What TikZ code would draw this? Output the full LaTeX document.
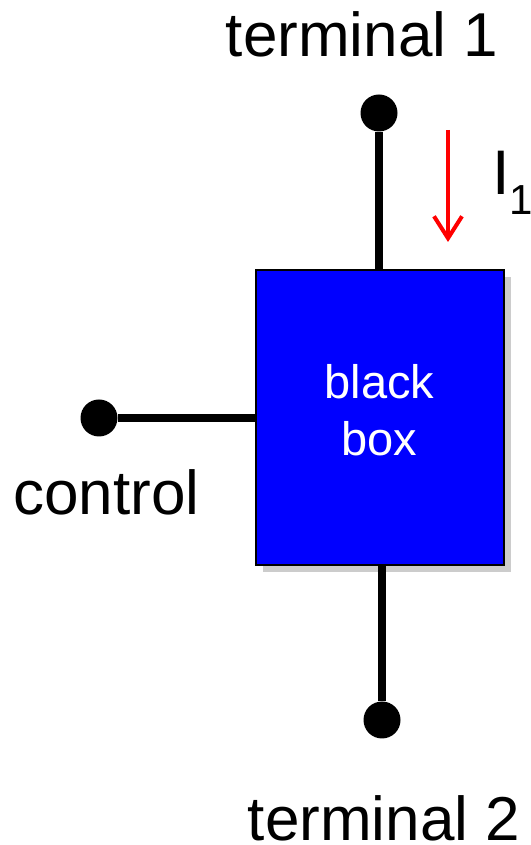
\documentclass[tikz,border=0pt]{standalone}
\usepackage{fontspec}
\setmainfont{Liberation Sans}
\usetikzlibrary{arrows.meta,shadows,positioning}

\begin{document}
\begin{tikzpicture}[x=1pt,y=1pt,
		wire/.style={line width=8pt},
		pin/.style={circle,fill=black,inner sep=0pt,minimum size=37pt},
		lbl/.style={inner sep=0pt,font=\fontsize{62}{62}\selectfont},
		bbox/.style={draw=black,line width=2pt,fill=blue,minimum width=248pt,minimum height=295pt,inner sep=0pt,
			drop shadow={shadow xshift=7pt,shadow yshift=-7pt,fill=black!20,opacity=1}}]
				 %\draw[color=gray,step=10pt,help lines,opacity=0.3] (0,0) grid (530,845); %help grids
				 \useasboundingbox (0,0) rectangle (530,845);
				 \node[bbox] (box) at (379.5,427) {};
				 \node[align=center,text=white,inner sep=0pt,font=\fontsize{47}{57}\selectfont] (boxtxt) at (379.5,435) {black\\box};
				 \node[pin] (t1) at (379,732) {};
				 \node[pin] (t2) at (382,125) {};
				 \node[pin] (ctl) at (99,427) {};
				 \draw[wire] (t1) -- (t1 |- box.north);
				 \draw[wire] (t2 |- box.south) -- (t2);
				 \draw[wire] (ctl) -- (box.west);
				 \node[lbl,anchor=base] (t1lbl) at (362,788) {terminal 1};
				 \node[lbl,anchor=base] (t2lbl) at (384,5) {terminal 2};
				 \node[lbl,anchor=base] (ctllbl) at (106.5,330) {control};
				 % current arrow
				 \coordinate (ia) at (448,715);
				 \coordinate (ib) at (448,603);
				 \draw[red,line width=4pt,-{Straight Barb[length=22pt,width=28pt]}] (ia) -- (ib);
				 \node[anchor=base west,inner sep=0pt] (ilbl) at (492,650) {\fontsize{63}{63}\selectfont I\raisebox{-20pt}{\fontsize{42}{42}\selectfont 1}};
\end{tikzpicture}
\end{document}
